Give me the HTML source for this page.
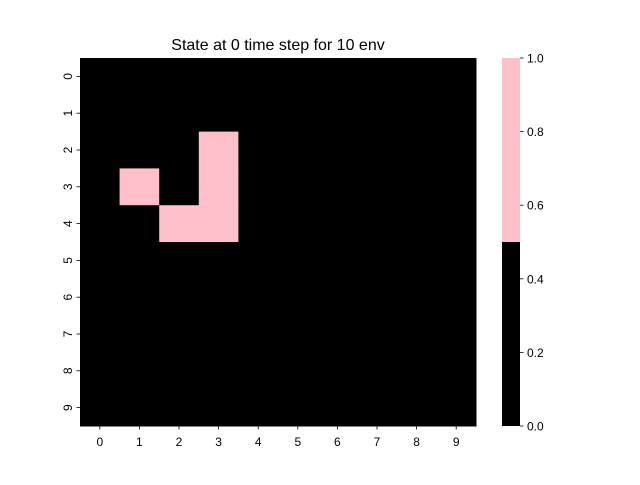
<!DOCTYPE html>
<html><head><meta charset="utf-8"><style>
body{margin:0;background:#fff}
text{font-family:"Liberation Sans","DejaVu Sans",sans-serif;fill:#000}
</style></head><body>
<svg id="chart" width="640" height="480" xmlns="http://www.w3.org/2000/svg">
<rect width="640" height="480" fill="#fff"/>
<text x="278" y="50" font-size="16" text-anchor="middle">State at 0 time step for 10 env</text>
<g id="cells"></g>
<g id="axes"></g>
<g id="cbar"></g>
</svg>
<script>
const rows=[0,1,2,3,4,5,6,7,8,9];
const cols=[0,1,2,3,4,5,6,7,8,9];
const grid=[
[0,0,0,0,0,0,0,0,0,0],
[0,0,0,0,0,0,0,0,0,0],
[0,0,0,1,0,0,0,0,0,0],
[0,1,0,1,0,0,0,0,0,0],
[0,0,1,1,0,0,0,0,0,0],
[0,0,0,0,0,0,0,0,0,0],
[0,0,0,0,0,0,0,0,0,0],
[0,0,0,0,0,0,0,0,0,0],
[0,0,0,0,0,0,0,0,0,0],
[0,0,0,0,0,0,0,0,0,0]];
const cbarTicks=[0.0,0.2,0.4,0.6,0.8,1.0];
const vmin=0,vmax=1;
const NS="http://www.w3.org/2000/svg";
const L=80,R=476,T=58,B=426;
const cw=(R-L)/cols.length, ch=(B-T)/rows.length;
const xs=i=>L+i*cw, ys=j=>T+j*ch;
const color=v=>v>=0.5?"#ffc0cb":"#000000";
function mk(t,a,p){const e=document.createElementNS(NS,t);for(const k in a)e.setAttribute(k,a[k]);p.appendChild(e);return e;}
const cells=document.getElementById('cells');
grid.forEach((row,j)=>row.forEach((v,i)=>{
 const r=mk('rect',{x:xs(i),y:ys(j),width:cw+0.5,height:ch+0.5,fill:color(v)},cells);
 
 
}));
const ax=document.getElementById('axes');
cols.forEach((c,i)=>{
 const x=xs(i)+cw/2;
 mk('line',{x1:x,x2:x,y1:B,y2:B+3.5,stroke:'#000','stroke-width':0.8},ax);
 const t=mk('text',{x:x,y:B+20,'font-size':12,'text-anchor':'middle'},ax);t.textContent=c;
 
 
});
rows.forEach((r,j)=>{
 const y=ys(j)+ch/2;
 mk('line',{x1:L-3.5,x2:L,y1:y,y2:y,stroke:'#000','stroke-width':0.8},ax);
 const t=mk('text',{x:0,y:0,'font-size':12,'text-anchor':'middle',transform:`translate(${L-8},${y}) rotate(-90)`},ax);t.textContent=r;
 
 
});
const cb=document.getElementById('cbar');
const CL=502,CR=520;
const cy=v=>B-(v-vmin)/(vmax-vmin)*(B-T);
const lo=mk('rect',{x:CL,y:cy(0.5),width:CR-CL,height:cy(0)-cy(0.5),fill:color(0)},cb);


const hi=mk('rect',{x:CL,y:cy(1),width:CR-CL,height:cy(0.5)-cy(1),fill:color(1)},cb);


cbarTicks.forEach(v=>{
 const y=cy(v);
 mk('line',{x1:CR,x2:CR+3.5,y1:y,y2:y,stroke:'#000','stroke-width':0.8},cb);
 const t=mk('text',{x:CR+7,y:y+4.5,'font-size':12},cb);t.textContent=v.toFixed(1);
 
 
});
</script>
</body></html>
